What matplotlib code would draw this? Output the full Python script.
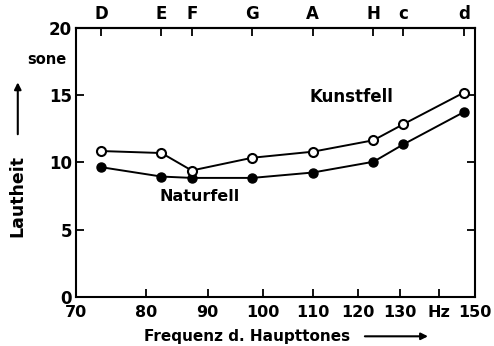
import numpy as np
import matplotlib.pyplot as plt
from matplotlib.ticker import FixedLocator, NullLocator

# Data
notes = ['D', 'E', 'F', 'G', 'A', 'H', 'c', 'd']
freq = [73.4, 82.4, 87.3, 98.0, 110.0, 123.5, 130.8, 146.8]
kunstfell = [10.85, 10.7, 9.4, 10.35, 10.8, 11.65, 12.85, 15.2]
naturfell = [9.65, 8.95, 8.85, 8.85, 9.25, 10.05, 11.35, 13.75]

xticks = [70, 80, 90, 100, 110, 120, 130, 140, 150]
xticklabels = ['70', '80', '90', '100', '110', '120', '130', 'Hz', '150']
yticks = [0, 5, 10, 15, 20]

plt.rcParams['font.family'] = 'DejaVu Sans'
plt.rcParams['font.weight'] = 'bold'

fig = plt.figure(figsize=(4.94, 3.46), dpi=100)
ax = fig.add_axes([0.154, 0.142, 0.808, 0.777])

ax.plot(freq, naturfell, color='black', lw=1.4, marker='o', ms=6.5,
        mfc='black', mec='black', zorder=3)
ax.plot(freq, kunstfell, color='black', lw=1.4, marker='o', ms=6.5,
        mfc='white', mec='black', mew=1.5, zorder=3)

ax.set_xscale('log')
ax.set_xlim(70, 150)
ax.set_ylim(0, 20)
ax.xaxis.set_major_locator(FixedLocator(xticks))
ax.xaxis.set_minor_locator(NullLocator())
ax.set_xticklabels(xticklabels)
ax.set_yticks(yticks)
ax.tick_params(direction='in', length=6, width=1.3, labelsize=12)
ax.tick_params(axis='y', right=True, pad=3)
ax.tick_params(axis='x', pad=6, labelsize=11.5)
for s in ax.spines.values():
    s.set_linewidth(1.5)

# note names on top
top = ax.secondary_xaxis('top')
top.xaxis.set_major_locator(FixedLocator(freq))
top.xaxis.set_minor_locator(NullLocator())
top.set_xticklabels(notes)
top.tick_params(direction='in', length=6, width=1.3, labelsize=12)
top.spines['top'].set_linewidth(1.5)

ax.text(88.6, 7.45, 'Naturfell', fontsize=11.5, ha='center', va='center')
ax.text(118.4, 14.9, 'Kunstfell', fontsize=12, ha='center', va='center')

fig.text(0.095, 0.827, 'sone', fontsize=10.5, ha='center', va='center')
fig.text(0.036, 0.434, 'Lautheit', fontsize=12.5, rotation=90, ha='center', va='center')
fig.text(0.5, 0.028, 'Frequenz d. Haupttones', fontsize=11, ha='center', va='center')

ax.annotate('', xy=(0.036, 0.77), xytext=(0.036, 0.604), xycoords='figure fraction',
            arrowprops=dict(arrowstyle='-|>', color='black', lw=1.5, mutation_scale=10))
ax.annotate('', xy=(0.872, 0.028), xytext=(0.733, 0.028), xycoords='figure fraction',
            arrowprops=dict(arrowstyle='-|>', color='black', lw=1.5, mutation_scale=10))

plt.savefig('out.png', dpi=100)
